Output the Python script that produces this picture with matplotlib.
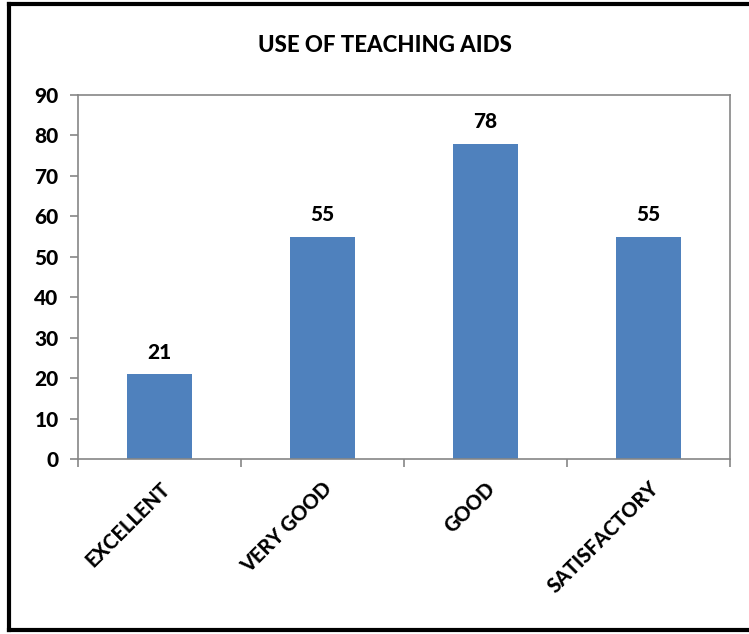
import matplotlib
matplotlib.use("Agg")
import matplotlib.pyplot as plt
from matplotlib import font_manager
from matplotlib.lines import Line2D
import numpy as np
import os

categories = ["EXCELLENT", "VERY GOOD", "GOOD", "SATISFACTORY"]
values = [21, 55, 78, 55]
title = "USE OF TEACHING AIDS"

# heavier Lato cut comes closer to the Calibri Bold of the original
files = {os.path.basename(fe.fname): fe.fname for fe in font_manager.fontManager.ttflist}
bold_file = None
for name in ['Lato-Heavy.ttf', 'Lato-ExtraBold.ttf', 'Lato-Black.ttf', 'Lato-Bold.ttf']:
    if name in files:
        bold_file = files[name]
        break


def fp(size):
    if bold_file:
        return font_manager.FontProperties(fname=bold_file, size=size)
    return font_manager.FontProperties(family='Open Sans', weight='bold', size=size)


fig = plt.figure(figsize=(7.49, 6.34), dpi=100)
ax = fig.add_axes([78/749, 1-459/634, (730-78)/749, (459-95)/634])

x = np.arange(len(categories))
ax.bar(x, values, width=0.4, color='#4F81BD', zorder=2)
for xi, v in zip(x, values):
    ax.annotate(str(v), (xi, v), xytext=(0, 9), textcoords='offset points',
                ha='center', va='bottom', fontproperties=fp(15))

ax.set_xlim(-0.5, len(categories) - 0.5)
ax.set_ylim(0, 90)
ax.set_yticks(np.arange(0, 91, 10))
ax.set_xticks(x)
ax.set_xticklabels(categories, rotation=45, ha='right', rotation_mode='anchor')
ax.set_xticks(np.arange(-0.5, len(categories), 1), minor=True)

grey = '#868686'
for s in ax.spines.values():
    s.set_color(grey)
    s.set_linewidth(1.2)
ax.tick_params(axis='y', length=6, width=1.2, color=grey, pad=8)
ax.tick_params(axis='x', which='major', length=0, pad=14)
ax.tick_params(axis='x', which='minor', length=6, width=1.2, color=grey)
for lab in ax.get_yticklabels():
    lab.set_fontproperties(fp(15))
for lab in ax.get_xticklabels():
    lab.set_fontproperties(fp(14.5))

fig.text(385/749, 1-45/634, title, ha='center', va='center', fontproperties=fp(16))

# outer frame (left, top, bottom)
fig.add_artist(Line2D([9/749, 9/749], [1-4/634, 1-630/634], color='black', lw=3, transform=fig.transFigure))
fig.add_artist(Line2D([9/749, 1], [1-4/634, 1-4/634], color='black', lw=3, transform=fig.transFigure))
fig.add_artist(Line2D([9/749, 1], [1-630/634, 1-630/634], color='black', lw=3, transform=fig.transFigure))

fig.savefig("out.png", dpi=100)
